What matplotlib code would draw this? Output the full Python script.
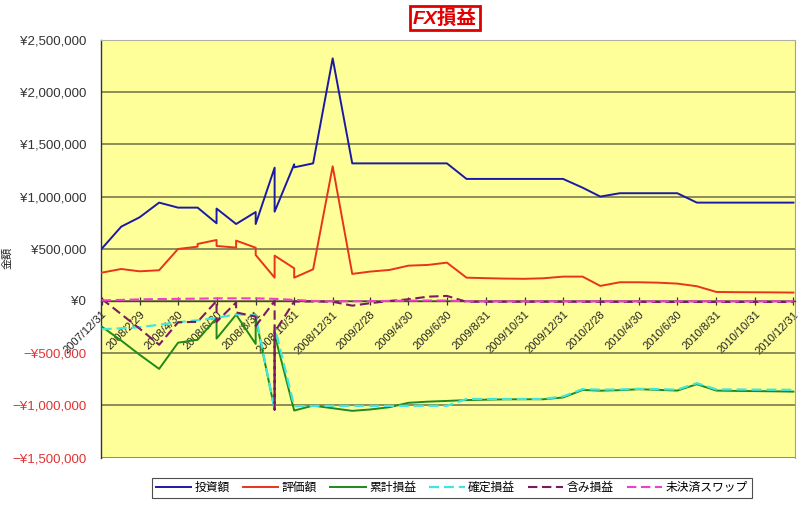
import matplotlib
matplotlib.use('Agg')
import matplotlib.pyplot as plt
import matplotlib.dates as mdates
import numpy as np
from datetime import datetime

plt.rcParams['font.family'] = ['Liberation Sans', 'Noto Sans CJK JP', 'DejaVu Sans']

UNIT = 1000  # values below in thousand yen

dates = [
    '2007/12/31', '2008/1/31', '2008/2/29', '2008/3/31', '2008/4/30',
    '2008/5/31', '2008/5/31',
    '2008/6/30', '2008/6/30',
    '2008/7/31', '2008/7/31',
    '2008/8/31', '2008/8/31',
    '2008/9/30', '2008/9/30', '2008/9/30',
    '2008/10/31', '2008/10/31',
    '2008/11/30', '2008/12/31',
    '2009/1/31', '2009/2/28', '2009/3/31', '2009/4/30', '2009/5/31', '2009/6/30',
    '2009/7/31', '2009/8/31', '2009/9/30', '2009/10/31', '2009/11/30', '2009/12/31',
    '2010/1/31', '2010/2/28', '2010/3/31', '2010/4/30', '2010/5/31', '2010/6/30',
    '2010/7/31', '2010/8/31', '2010/9/30', '2010/10/31', '2010/11/30', '2010/12/31',
]

investment = [500, 712, 801, 942, 894,
              894, 894,
              744, 885,
              737, 737,
              852, 737,
              1277, 1277, 855,
              1309, 1280,
              1318, 2324,
              1318, 1318, 1318, 1318, 1318, 1318,
              1169, 1169, 1169, 1169, 1169, 1169,
              1085, 1000, 1032, 1032, 1032, 1032,
              942, 942, 942, 942, 942, 942]

valuation = [271, 306, 284, 294, 498,
             520, 546,
             584, 527,
             511, 578,
             510, 440,
             223, 223, 434,
             313, 223,
             303, 1290,
             259, 281, 297, 338, 345, 367,
             223, 218, 214, 212, 217, 233,
             233, 144, 179, 179, 175, 166,
             141, 86, 84, 83, 82, 80]

cumulative = [-246, -380, -515, -651, -400,
              -372, -372,
              -163, -361,
              -131, -131,
              -412, -163,
              -1041, -1041, -323,
              -1050, -1050,
              -1003, -1028,
              -1053, -1040, -1018, -976, -965, -958,
              -950, -946, -943, -942, -942, -925,
              -853, -860, -855, -846, -852, -859,
              -798, -859, -862, -864, -866, -869]

realized = [-271, -262, -252, -228, -204,
            -185, -185,
            -163, -163,
            -128, -128,
            -140, -140,
            -1041, -1041, -243,
            -1008, -1008,
            -1005, -1005,
            -1005, -1005, -1005, -1005, -1005, -1005,
            -939, -939, -939, -939, -939, -915,
            -845, -850, -848, -842, -845, -850,
            -788, -848, -848, -850, -850, -852]

unrealized = [20, -127, -265, -420, -205,
              -200, -200,
              0, -200,
              -15, -110,
              -150, -240,
              0, -1041, -300,
              -5, -5,
              -5, -8,
              -45, -22, 0, 16, 41, 48,
              -8, -8, -8, -8, -8, -8,
              -8, -9, -9, -9, -10, -10,
              -10, -10, -10, -10, -10, -10]

swap = [5, 10, 15, 18, 20,
        22, 22,
        25, 25,
        25, 25,
        25, 25,
        20, 20, 20,
        10, 10,
        0, -3,
        -3, -2, 0, 3, 4, 4,
        -4, -4, -4, -4, -4, -4,
        -4, -4, -4, -4, -4, -4,
        -4, -4, -4, -4, -4, -4]

series_names = ['投資額', '評価額', '累計損益', '確定損益', '含み損益', '未決済スワップ']
series_values = [investment, valuation, cumulative, realized, unrealized, swap]

tick_labels = ['2007/12/31', '2008/2/29', '2008/4/30', '2008/6/30', '2008/8/31',
               '2008/10/31', '2008/12/31', '2009/2/28', '2009/4/30', '2009/6/30',
               '2009/8/31', '2009/10/31', '2009/12/31', '2010/2/28', '2010/4/30',
               '2010/6/30', '2010/8/31', '2010/10/31', '2010/12/31']

y_ticks = [-1500000, -1000000, -500000, 0, 500000, 1000000, 1500000, 2000000, 2500000]

styles = [
    dict(color='#1a1aa6', lw=1.4, ls='-'),
    dict(color='#e8341c', lw=1.4, ls='-'),
    dict(color='#1f8a1a', lw=1.4, ls='-'),
    dict(color='#3fe6df', lw=1.6, ls=(0, (4.5, 2.2))),
    dict(color='#7a1a62', lw=1.5, ls=(0, (4.5, 2.2))),
    dict(color='#ee3fcc', lw=1.5, ls=(0, (4.5, 2.2))),
]


def parse(d):
    return datetime.strptime(d, '%Y/%m/%d')


x = [parse(d) for d in dates]

fig = plt.figure(figsize=(8, 5.05), dpi=100)
ax = fig.add_axes([101.5 / 800, 1 - 457.5 / 505, (795 - 101.5) / 800, (457.5 - 40) / 505])
ax.set_facecolor('#ffff99')

# spines first (moving a spine resets tick properties)
ax.spines['bottom'].set_position(('data', 0))
ax.spines['bottom'].set_color('#444444')
ax.spines['bottom'].set_linewidth(1.0)
ax.spines['bottom'].set_zorder(2.6)
ax.spines['left'].set_color('#333333')
ax.spines['left'].set_linewidth(1.0)
ax.spines['top'].set_color('#b0b0a0')
ax.spines['top'].set_linewidth(0.8)
ax.spines['right'].set_color('#a0a0a0')
ax.spines['right'].set_linewidth(0.8)

handles = []
for name, vals, st in zip(series_names, series_values, styles):
    ln, = ax.plot(x, np.array(vals) * UNIT, color=st['color'], lw=st['lw'],
                  linestyle=st['ls'], label=name, zorder=3)
    handles.append(ln)

ax.set_ylim(-1500000, 2500000)
x0 = mdates.date2num(parse(tick_labels[0]))
x1 = mdates.date2num(parse(tick_labels[-1]))
ax.set_xlim(x0 - 0.3, x1 + 2.5)

ax.set_yticks(y_ticks)


def yfmt(v):
    if v < 0:
        return '−¥{:,}'.format(int(-v))
    return '¥{:,}'.format(int(v))


ax.set_yticklabels([yfmt(v) for v in y_ticks], fontsize=9.5)
for lbl, v in zip(ax.get_yticklabels(), y_ticks):
    lbl.set_color('#e03434' if v < 0 else '#333333')
ax.tick_params(axis='y', length=0, pad=11)
ax.yaxis.grid(True, color='#6e6e46', lw=1.1)
ax.set_axisbelow(True)

ax.set_xticks([mdates.date2num(parse(t)) for t in tick_labels])
ax.set_xticklabels(tick_labels, fontsize=8, color='#222222')
ax.tick_params(axis='x', direction='inout', length=6, width=0.9, color='#333333', pad=3)
for lbl in ax.get_xticklabels():
    lbl.set_rotation(45)
    lbl.set_ha('right')
    lbl.set_rotation_mode('anchor')

fig.text(7 / 800, 1 - 258 / 505, '金額', rotation=90, ha='center', va='center',
         fontsize=8, color='#222222')

fig.text(445 / 800, 1 - 18 / 505, 'FX損益', color='#e00000', fontsize=14,
         fontweight='bold', style='italic', ha='center', va='center',
         bbox=dict(boxstyle='square,pad=0.15', fc='white', ec='#e00000', lw=2))

leg = fig.legend(handles, series_names, loc='center',
                 bbox_to_anchor=(452 / 800, 1 - 488 / 505), ncol=6, frameon=True,
                 fancybox=False, edgecolor='#222222', fontsize=8.5, handlelength=3,
                 columnspacing=1.1, borderpad=0.35, handletextpad=0.3)
leg.get_frame().set_linewidth(0.8)

fig.savefig('out.png', dpi=100, facecolor='white')
